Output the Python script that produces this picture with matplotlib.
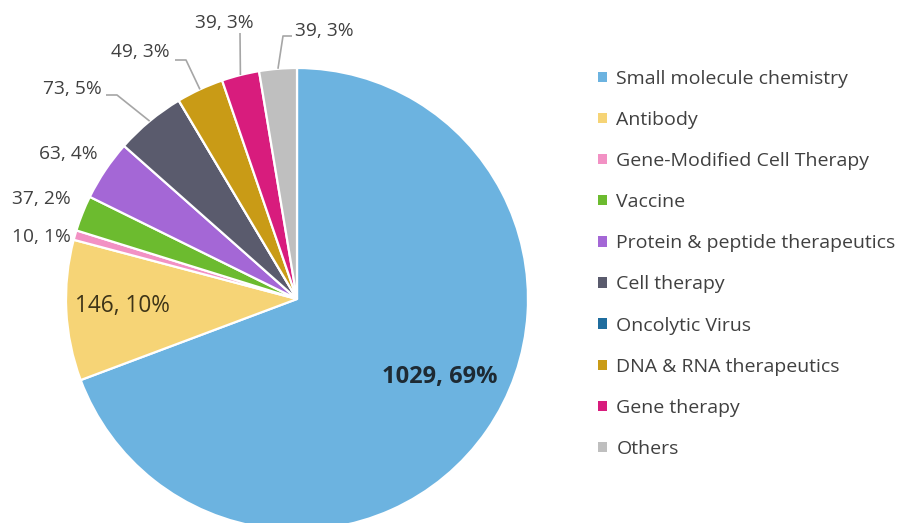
import matplotlib.pyplot as plt
import numpy as np

plt.rcParams['font.family'] = ['Open Sans', 'DejaVu Sans']

categories = ['Small molecule chemistry', 'Antibody', 'Gene-Modified Cell Therapy',
              'Vaccine', 'Protein & peptide therapeutics', 'Cell therapy',
              'Oncolytic Virus', 'DNA & RNA therapeutics', 'Gene therapy', 'Others']
counts = [1029, 146, 10, 37, 63, 73, 0, 49, 39, 39]
colors = ['#6cb3e0', '#f6d476', '#f291c4', '#6cbb2f', '#a467d6', '#5a5b6d',
          '#1f6d9e', '#c99b16', '#d81c7d', '#bfbfbf']

W, H = 901, 523
total = sum(counts)

fig = plt.figure(figsize=(W / 100, H / 100), dpi=100)
ax = fig.add_axes([0, 0, 1, 1])

# pie in pixel-like coordinates (y up)
cx, cy, R = 297, H - 299, 231
wedges, _ = ax.pie(counts, colors=colors, startangle=90, counterclock=False,
                   center=(cx, cy), radius=R, frame=True,
                   wedgeprops=dict(edgecolor='white', linewidth=1.6))
ax.set_xlim(0, W)
ax.set_ylim(0, H)
ax.set_aspect('equal')
ax.axis('off')


def edge_point(w, r=R):
    t = np.deg2rad((w.theta1 + w.theta2) / 2)
    return cx + r * np.cos(t), cy + r * np.sin(t)


# label placement: (x, y) in image pixels, y down; optional leader elbows
label_pos = {
    0: (440, 377),
    1: (122, 306),
    2: (41, 237),
    3: (41, 199),
    4: (68, 154),
    5: (72, 89),
    7: (140, 52),
    8: (224, 23),
    9: (324, 31),
}
leaders = {
    5: [(106, 95), (117, 95)],
    7: [(175, 60), (186, 60)],
    8: [(240, 33)],
    9: [(292, 36), (283, 36)],
}

for i, (x, y) in label_pos.items():
    v = counts[i]
    txt = f"{v}, {round(100 * v / total)}%"
    if i == 0:
        ax.text(x, H - y, txt, ha='center', va='center', fontsize=17,
                fontweight='bold', color='#1e2a33')
    elif i == 1:
        ax.text(x, H - y, txt, ha='center', va='center', fontsize=16.3,
                color='#3d3418')
    else:
        ax.text(x, H - y, txt, ha='center', va='center', fontsize=13.8,
                color='#404040')
    if i in leaders:
        pts = [(px, H - py) for px, py in leaders[i]] + [edge_point(wedges[i])]
        xs, ys = zip(*pts)
        ax.plot(xs, ys, color='#a6a6a6', lw=1.2, solid_capstyle='butt')

leg = ax.legend(wedges, categories, loc='upper left',
                bbox_to_anchor=(590 / W, 1 - 62 / H), frameon=False,
                fontsize=14, handlelength=0.45, handleheight=0.45,
                handletextpad=0.5, labelspacing=1.19, borderaxespad=0)
for t in leg.get_texts():
    t.set_color('#404040')
for hnd in leg.legend_handles:
    hnd.set_edgecolor('none')

fig.savefig('out.png', dpi=100)
